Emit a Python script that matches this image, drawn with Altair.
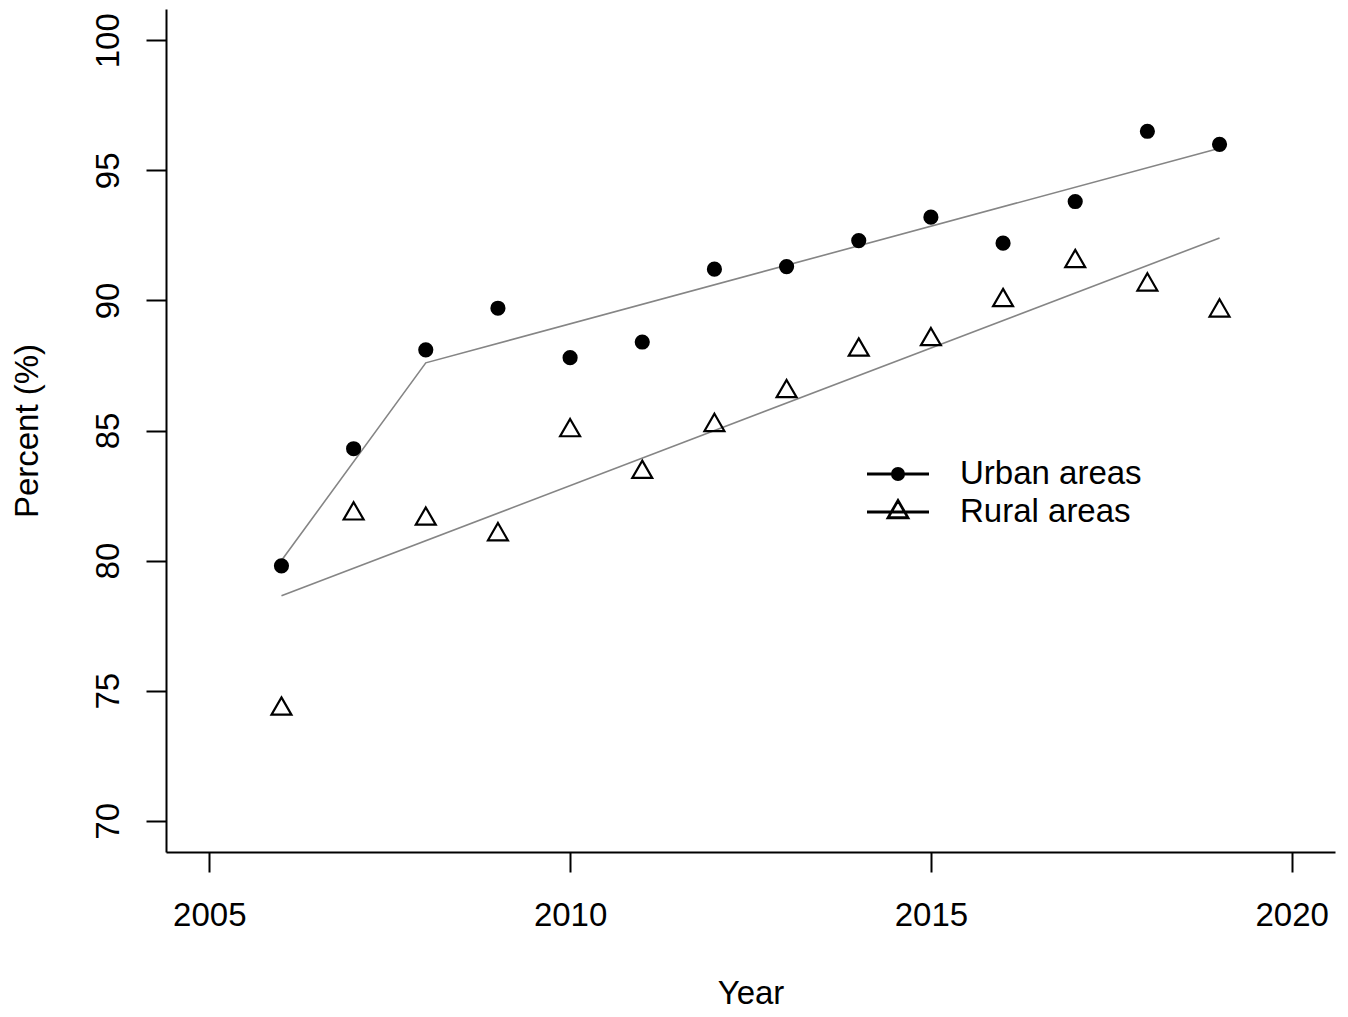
import altair as alt
import pandas as pd

# ---- data ----
years = list(range(2006, 2020))
urban = [79.8, 84.3, 88.1, 89.7, 87.8, 88.4, 91.2, 91.3, 92.3, 93.2, 92.2, 93.8, 96.5, 96.0]
rural = [74.3, 81.8, 81.6, 81.0, 85.0, 83.4, 85.2, 86.5, 88.1, 88.5, 90.0, 91.5, 90.6, 89.6]

trend_urban_years = [2006, 2008, 2019]
trend_urban = [80.0, 87.6, 95.85]
trend_rural_years = [2006, 2019]
trend_rural = [78.65, 92.4]

series_names = ["Urban areas", "Rural areas"]
x_ticks = [2005, 2010, 2015, 2020]
y_ticks = [70, 75, 80, 85, 90, 95, 100]

pts = pd.DataFrame({
    "year": years + years,
    "value": urban + rural,
    "series": [series_names[0]] * len(years) + [series_names[1]] * len(years),
})
trend = pd.DataFrame({
    "year": trend_urban_years + trend_rural_years,
    "value": trend_urban + trend_rural,
    "series": [series_names[0]] * len(trend_urban_years) + [series_names[1]] * len(trend_rural_years),
})

FONT = "Liberation Sans"
FS = 33

x_enc = alt.X(
    "year:Q",
    scale=alt.Scale(domain=[2004.4, 2020.6], nice=False, zero=False),
    axis=alt.Axis(
        values=x_ticks, format="d", title="Year", grid=False,
        domainColor="black", domainWidth=2, tickColor="black", tickWidth=2, tickSize=20,
        labelFont=FONT, labelFontSize=FS, labelColor="black", labelPadding=53,
        labelBaseline="alphabetic", labelAlign="center", labelFlush=False, labelOverlap=False,
        titleFont=FONT, titleFontSize=FS, titleFontWeight="normal", titleColor="black",
        titleX=584.5, titleY=151, titleAlign="center", titleBaseline="alphabetic",
    ),
)
y_enc = alt.Y(
    "value:Q",
    scale=alt.Scale(domain=[68.8, 101.2], nice=False, zero=False),
    axis=alt.Axis(
        values=y_ticks, title="Percent (%)", grid=False,
        domainColor="black", domainWidth=2, tickColor="black", tickWidth=2, tickSize=20,
        labelFont=FONT, labelFontSize=FS, labelColor="black", labelPadding=28, labelAngle=270,
        labelBaseline="alphabetic", labelAlign="center", labelFlush=False, labelOverlap=False,
        titleFont=FONT, titleFontSize=FS, titleFontWeight="normal", titleColor="black",
        titleX=-129, titleY=421.5, titleAngle=270, titleAlign="center", titleBaseline="alphabetic",
    ),
)

lines = alt.Chart(trend).mark_line(color="#858585", strokeWidth=1.6).encode(
    x=x_enc, y=y_enc, detail="series:N"
)

urban_pts = alt.Chart(pts).transform_filter(
    alt.datum.series == series_names[0]
).mark_circle(size=230, color="black", opacity=1).encode(x=x_enc, y=y_enc)

tri_path = "M0,-1.097L0.95,0.548L-0.95,0.548Z"
rural_pts = alt.Chart(pts).transform_filter(
    alt.datum.series == series_names[1]
).mark_point(shape=tri_path, size=440, filled=False, stroke="black", strokeWidth=2.2, opacity=1).encode(
    x=x_enc, y=y_enc
)


def ring(a):
    return f"M{-a},0A{a},{a},0,1,0,{a},0A{a},{a},0,1,0,{-a},0Z"


def tri(k):
    return f"M0,{-0.5625 * k:.4f}L{0.487 * k:.4f},{0.281 * k:.4f}L{-0.487 * k:.4f},{0.281 * k:.4f}Z"


# legend symbols: a doubled line through the marker; the filled dot is drawn as concentric rings
leg_line = "M-1.59,-0.025H1.59M-1.59,0.025H1.59"
leg_urban = leg_line + "".join(ring(a) for a in [0.03, 0.08, 0.13, 0.18, 0.23, 0.28, 0.31])
leg_rural = leg_line + tri(1.12) + tri(0.98)

legend_layer = alt.Chart(pts).transform_filter("false").mark_point(
    filled=False, color="black", opacity=1, strokeWidth=2
).encode(
    shape=alt.Shape(
        "series:N",
        scale=alt.Scale(domain=series_names, range=[leg_urban, leg_rural]),
        legend=alt.Legend(
            orient="none", legendX=711.5, legendY=444.5, title=None, padding=0,
            symbolSize=1521, symbolStrokeColor="black",
            symbolStrokeWidth=2, symbolOpacity=1,
            labelFont=FONT, labelFontSize=FS, labelColor="black", labelOffset=41.5,
            labelLimit=0, rowPadding=0,
        ),
    )
)

chart = alt.layer(lines, urban_pts, rural_pts, legend_layer).properties(
    width=1169, height=843,
    autosize=alt.AutoSizeParams(type="none"),
    padding={"left": 158, "top": 1, "right": 5, "bottom": 157},
    background="white",
).configure_view(stroke=None)

chart.save("out.html", embed_options={"renderer": "svg", "actions": False})
